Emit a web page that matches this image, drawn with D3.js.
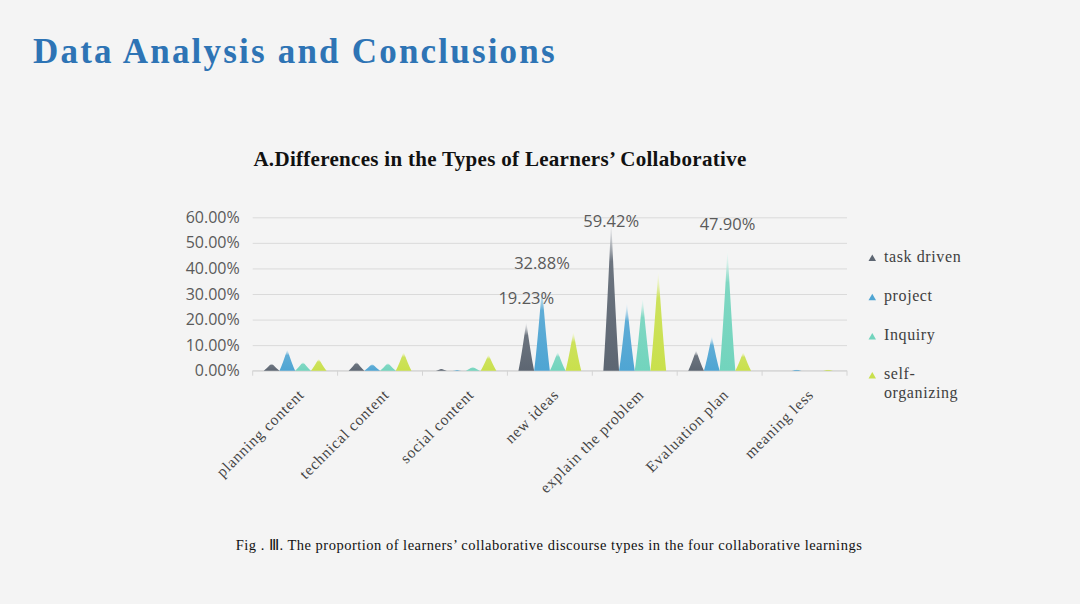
<!DOCTYPE html>
<html>
<head>
<meta charset="utf-8">
<script src="https://cdn.jsdelivr.net/npm/d3@7"></script>
<style>
  html, body { margin: 0; padding: 0; background: #f4f4f4; }
  svg { display: block; }
</style>
</head>
<body>
<svg id="chart" width="1080" height="604"></svg>
<script>
// ---- data ----
const categories = ["planning content", "technical content", "social content", "new  ideas", "explain the problem", "Evaluation plan", "meaning less"];
const seriesNames = ["task driven", "project", "Inquiry", "self-organizing"];
const taskDriven = [2.9, 3.5, 0.8, 19.23, 59.42, 8.1, 0];
const project = [8.4, 2.7, 0.3, 32.88, 27.0, 13.8, 0.5];
const inquiry = [3.5, 3.1, 1.5, 7.5, 29.0, 47.90, 0];
const selfOrganizing = [4.8, 7.4, 6.4, 15.5, 39.5, 7.4, 0.5];
const yTicks = [0, 10, 20, 30, 40, 50, 60];
const labeled = [[0, 3], [1, 3], [0, 4], [2, 5]]; // [series index, category index]
const colors = ["#5d6672", "#4fa5d3", "#72d4bd", "#c9e04c"];

const seriesValues = [taskDriven, project, inquiry, selfOrganizing];

const svg = d3.select("#chart");
svg.append("rect").attr("width", 1080).attr("height", 604).attr("fill", "#f4f4f4");

const serif = "'Liberation Serif', 'Times New Roman', serif";

// titles
svg.append("text").attr("x", 33).attr("y", 63)
  .attr("font-family", serif)
  .attr("font-weight", "bold").attr("font-size", 35).attr("letter-spacing", 2.2)
  .attr("fill", "#2e74b5").text("Data Analysis and Conclusions");

svg.append("text").attr("x", 500).attr("y", 166).attr("text-anchor", "middle")
  .attr("font-family", serif)
  .attr("font-weight", "bold").attr("font-size", 21).attr("letter-spacing", 0.3).attr("fill", "#111")
  .text("A.Differences in the Types of Learners\u2019 Collaborative");

svg.append("text").attr("x", 549).attr("y", 550).attr("text-anchor", "middle")
  .attr("font-family", serif)
  .attr("font-size", 14.5).attr("letter-spacing", 0.5).attr("fill", "#111")
  .text("Fig . \u2162.  The proportion of learners\u2019 collaborative discourse types in the four collaborative learnings");

// scales
const plotLeft = 252.7, plotRight = 847, yTop = 217.3, yBottom = 370.7;
const x0 = d3.scaleBand().domain(categories).range([plotLeft, plotRight])
  .paddingInner(0.26).paddingOuter(0.13);
const x1 = d3.scaleBand().domain(seriesNames).range([0, x0.bandwidth()]).padding(0);
const y = d3.scaleLinear().domain([0, 60]).range([yBottom, yTop]);

// gridlines
const yAxis = d3.axisLeft(y).tickValues(yTicks).tickSize(-(plotRight - plotLeft))
  .tickFormat(d => d.toFixed(2) + "%").tickPadding(13);
const gy = svg.append("g").attr("transform", `translate(${plotLeft},0)`).call(yAxis);
gy.select(".domain").remove();
gy.selectAll(".tick line").attr("stroke", "#dadada").attr("stroke-width", 1);
gy.selectAll(".tick text").attr("font-family", "'Open Sans', 'Noto Sans', sans-serif")
  .attr("font-size", 16).attr("fill", "#5a5a5a");

// x axis baseline + separators
const step = x0.step();
const sepIdx = d3.range(categories.length + 1);
svg.append("line").attr("x1", plotLeft).attr("x2", plotRight)
  .attr("y1", yBottom).attr("y2", yBottom).attr("stroke", "#d4d4d4");
svg.append("g").selectAll("line").data(sepIdx).join("line")
  .attr("x1", i => plotLeft + i * step).attr("x2", i => plotLeft + i * step)
  .attr("y1", yBottom).attr("y2", yBottom + 5).attr("stroke", "#d4d4d4");

// x labels
svg.append("g").selectAll("text").data(categories).join("text")
  .attr("transform", d => `translate(${x0(d) + x0.bandwidth() / 2 + 10},${yBottom + 25}) rotate(-45)`)
  .attr("text-anchor", "end")
  .attr("font-family", serif)
  .attr("font-size", 15.5).attr("letter-spacing", 0.8).attr("fill", "#444")
  .text(d => d);

// gradients
const defs = svg.append("defs");
colors.forEach((c, i) => {
  const g = defs.append("linearGradient").attr("id", "g" + i)
    .attr("x1", 0).attr("y1", 1).attr("x2", 0).attr("y2", 0);
  g.append("stop").attr("offset", "0%").attr("stop-color", c).attr("stop-opacity", 1);
  g.append("stop").attr("offset", "72%").attr("stop-color", c).attr("stop-opacity", 0.9);
  g.append("stop").attr("offset", "100%").attr("stop-color", "#ffffff").attr("stop-opacity", 0.5);
});

// spikes
function spike(cx, w, yb, yt) {
  const h = yb - yt;
  const l = cx - w / 2, r = cx + w / 2;
  return `M${l},${yb} Q${cx - w * 0.3},${yb - h * 0.3} ${cx},${yt} Q${cx + w * 0.3},${yb - h * 0.3} ${r},${yb} Z`;
}
seriesNames.forEach((s, si) => {
  svg.append("g").selectAll("path").data(categories.map((c, ci) => ({ c, v: seriesValues[si][ci] })))
    .join("path")
    .attr("d", d => {
      const cx = x0(d.c) + x1(s) + x1.bandwidth() / 2;
      const w = d.v > 0 ? x1.bandwidth() * Math.min(1, 0.5 + d.v / 4) : 0;
      return d.v > 0 ? spike(cx, w, yBottom, y(d.v)) : "";
    })
    .attr("fill", `url(#g${si})`);
});

// data labels
svg.append("g").selectAll("text").data(labeled).join("text")
  .attr("x", d => x0(categories[d[1]]) + x1(seriesNames[d[0]]) + x1.bandwidth() / 2)
  .attr("y", d => Math.max(y(seriesValues[d[0]][d[1]]) - 18, y(60) + 9.5))
  .attr("text-anchor", "middle")
  .attr("font-family", "'Open Sans', 'Noto Sans', sans-serif")
  .attr("font-size", 16.5).attr("fill", "#5a5a5a")
  .text(d => seriesValues[d[0]][d[1]].toFixed(2) + "%");

// legend
const legendLabels = [["task driven"], ["project"], ["Inquiry"], ["self-", "organizing"]];
const lg = svg.append("g");
legendLabels.forEach((lines, i) => {
  const yy = 261.5 + i * 39.2;
  lg.append("path").attr("d", `M${868.5},${yy - 0.5} L${872.3},${yy - 7} L${876},${yy - 0.5} Z`)
    .attr("fill", colors[i]);
  const t = lg.append("text").attr("x", 884).attr("y", yy)
    .attr("font-family", serif)
    .attr("font-size", 16).attr("letter-spacing", 0.6).attr("fill", "#404040");
  lines.forEach((ln, k) => t.append("tspan").attr("x", 884).attr("dy", k === 0 ? 0 : 19).text(ln));
});
</script>
</body>
</html>
